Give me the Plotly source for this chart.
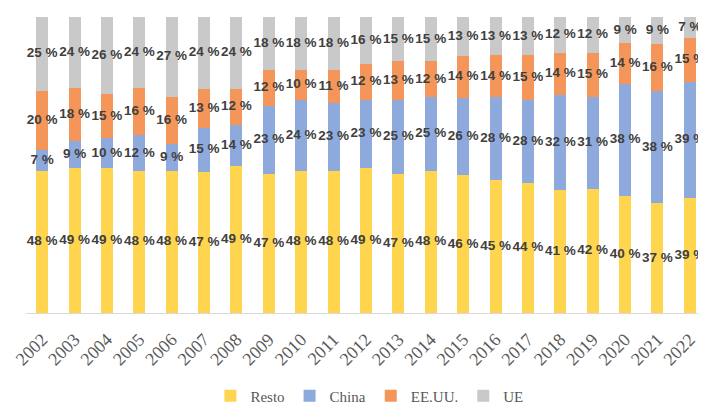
import plotly.graph_objects as go

years = [str(y) for y in range(2002, 2023)]
resto = [48, 49, 49, 48, 48, 47, 49, 47, 48, 48, 49, 47, 48, 46, 45, 44, 41, 42, 40, 37, 39]
china = [7, 9, 10, 12, 9, 15, 14, 23, 24, 23, 23, 25, 25, 26, 28, 28, 32, 31, 38, 38, 39]
eeuu = [20, 18, 15, 16, 16, 13, 12, 12, 10, 11, 12, 13, 12, 14, 14, 15, 14, 15, 14, 16, 15]
ue = [25, 24, 26, 24, 27, 24, 24, 18, 18, 18, 16, 15, 15, 13, 13, 13, 12, 12, 9, 9, 7]

series = [
    ("Resto", resto, "#FFD550"),
    ("China", china, "#8EA9DB"),
    ("EE.UU.", eeuu, "#F4965A"),
    ("UE", ue, "#C9C9C9"),
]

totals = [sum(v) for v in zip(resto, china, eeuu, ue)]

fig = go.Figure()
for name, vals, color in series:
    fig.add_trace(go.Bar(
        x=years, y=vals, name=name,
        marker=dict(color=color, line=dict(width=0)),
        hoverinfo="x+y+name",
    ))

# data labels at the middle of each (normalized) segment
base = [0.0] * len(years)
for name, vals, color in series:
    mids = []
    for i, v in enumerate(vals):
        pct = v * 100.0 / totals[i]
        mids.append(base[i] + pct / 2)
        base[i] += pct
    fig.add_trace(go.Scatter(
        x=years, y=mids, mode="text",
        text=[f"{v} %" for v in vals],
        textposition="middle center",
        textfont=dict(family="Liberation Sans", size=13.5, color="#404040", weight="bold"),
        showlegend=False, hoverinfo="skip", cliponaxis=False,
    ))

fig.update_layout(
    barmode="stack",
    barnorm="percent",
    bargap=0.63,
    width=706, height=412,
    margin=dict(l=18, r=8, t=9, b=90),
    paper_bgcolor="white",
    plot_bgcolor="white",
    showlegend=True,
    legend=dict(
        orientation="h", x=0.505, xanchor="center", y=-0.225, yanchor="top",
        font=dict(family="Liberation Serif", size=15, color="#595959"),
        traceorder="normal", itemwidth=30,
    ),
    xaxis=dict(
        type="category",
        range=[-0.5, len(years) - 0.5],
        tickangle=-45,
        tickfont=dict(family="Liberation Serif", size=18, color="#595959"),
        showline=True, linecolor="#D9D9D9", linewidth=1,
        ticks="", showgrid=False, automargin=False,
        ticklabelstandoff=8,
    ),
    yaxis=dict(visible=False, range=[0, 100], automargin=False),
)

fig.write_html("out.html")
